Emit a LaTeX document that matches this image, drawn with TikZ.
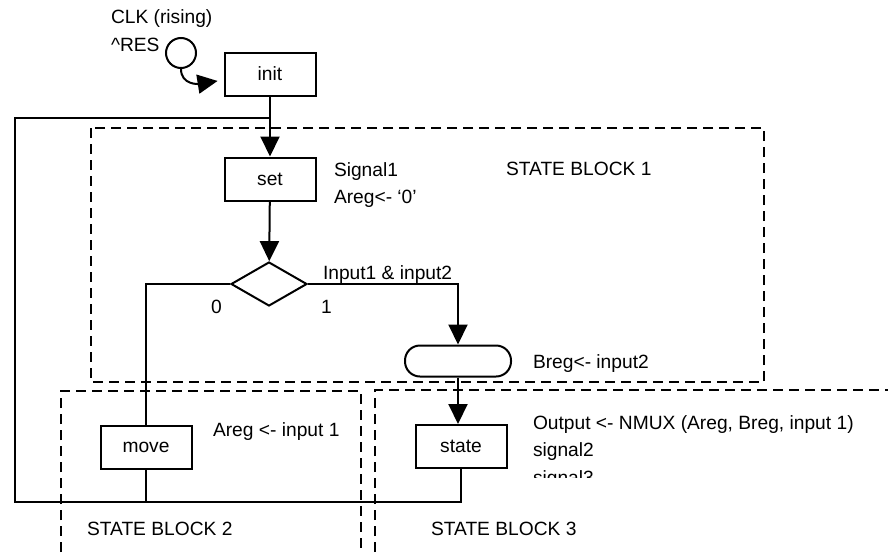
\documentclass[tikz,border=0pt]{standalone}
\usepackage{fontspec}
\setmainfont{Liberation Sans}
\usetikzlibrary{arrows.meta,shapes.geometric}

\begin{document}
\begin{tikzpicture}[x=0.5pt,y=-0.5pt,line width=1pt,
  font=\fontsize{9.6}{13.75}\selectfont,
  box/.style={draw,minimum width=45.5pt,minimum height=21.5pt,inner sep=0pt},
  arr/.style={-{Triangle[length=10pt,width=9.5pt]}},
  block/.style={dash pattern=on 5pt off 3pt},
  txt/.style={anchor=base west,inner sep=0pt,align=left}]
  \useasboundingbox (0,0) rectangle (888,552);
  \draw[block] (91,128) rectangle (764,382);
  \draw[block] (61,552) -- (61,391) -- (361,391) -- (361,552);
  \draw[block] (375,552) -- (375,390) -- (888,390);

  \node[circle,draw,minimum size=15pt,inner sep=0pt] (clk) at (181,53) {};
  \node[box] (init) at (270,74) {init};
  \node[box] (set) at (270,179) {set};
  \node[diamond,draw,minimum width=38pt,minimum height=22pt,inner sep=0pt] (dec) at (269,284) {};
  \node[draw,rounded corners=7.5pt,minimum width=53pt,minimum height=15.5pt] (term) at (458,361) {};
  \node[box] (move) at (146,447) {move};
  \node[box] (state) at (461,446.5) {state};
  \coordinate (fbb) at (15,502);
  \coordinate (fbt) at (15,118);

  \node[txt] (clklbl) at (110,51) {CLK (rising)\\\textasciicircum RES};
  \node[txt] (blk1) at (505,175) {STATE BLOCK 1};
  \begin{scope}
    \clip (320,150) rectangle (480,206);
    \node[txt] (setlbl) at (333,203.5) {Signal1\\Areg<- ‘0’};
  \end{scope}
  \node[txt] (cond) at (322,279) {Input1 \& input2};
  \node[txt] (zero) at (210,313) {0};
  \node[txt] (one) at (320,313) {1};
  \node[txt] (termlbl) at (532,368) {Breg<- input2};
  \node[txt] (movelbl) at (212,436) {Areg <- input 1};
  \begin{scope}
    \clip (520,400) rectangle (888,477);
    \node[txt] (statelbl) at (532,484) {Output <- NMUX (Areg, Breg, input 1)\\signal2\\signal3};
  \end{scope}
  \node[txt] (blk2) at (86,535) {STATE BLOCK 2};
  \node[txt] (blk3) at (430,535) {STATE BLOCK 3};

  \draw[arr,shorten >=3pt] (clk.south) .. controls +(0,16) and +(-25,4) .. ([yshift=-3pt]init.west);
  \draw[arr] (init) -- (set);
  \draw[arr] (set) -- (dec);
  \draw (dec.west) -| (move.north);
  \draw[arr] (dec.east) -| (term.north);
  \draw[arr] (term.south) -- (term.south |- state.north);
  \draw (move.south) -- (move.south |- fbb);
  \draw (state.south) |- (fbb) -- (fbt) -| (init.south);
\end{tikzpicture}
\end{document}
